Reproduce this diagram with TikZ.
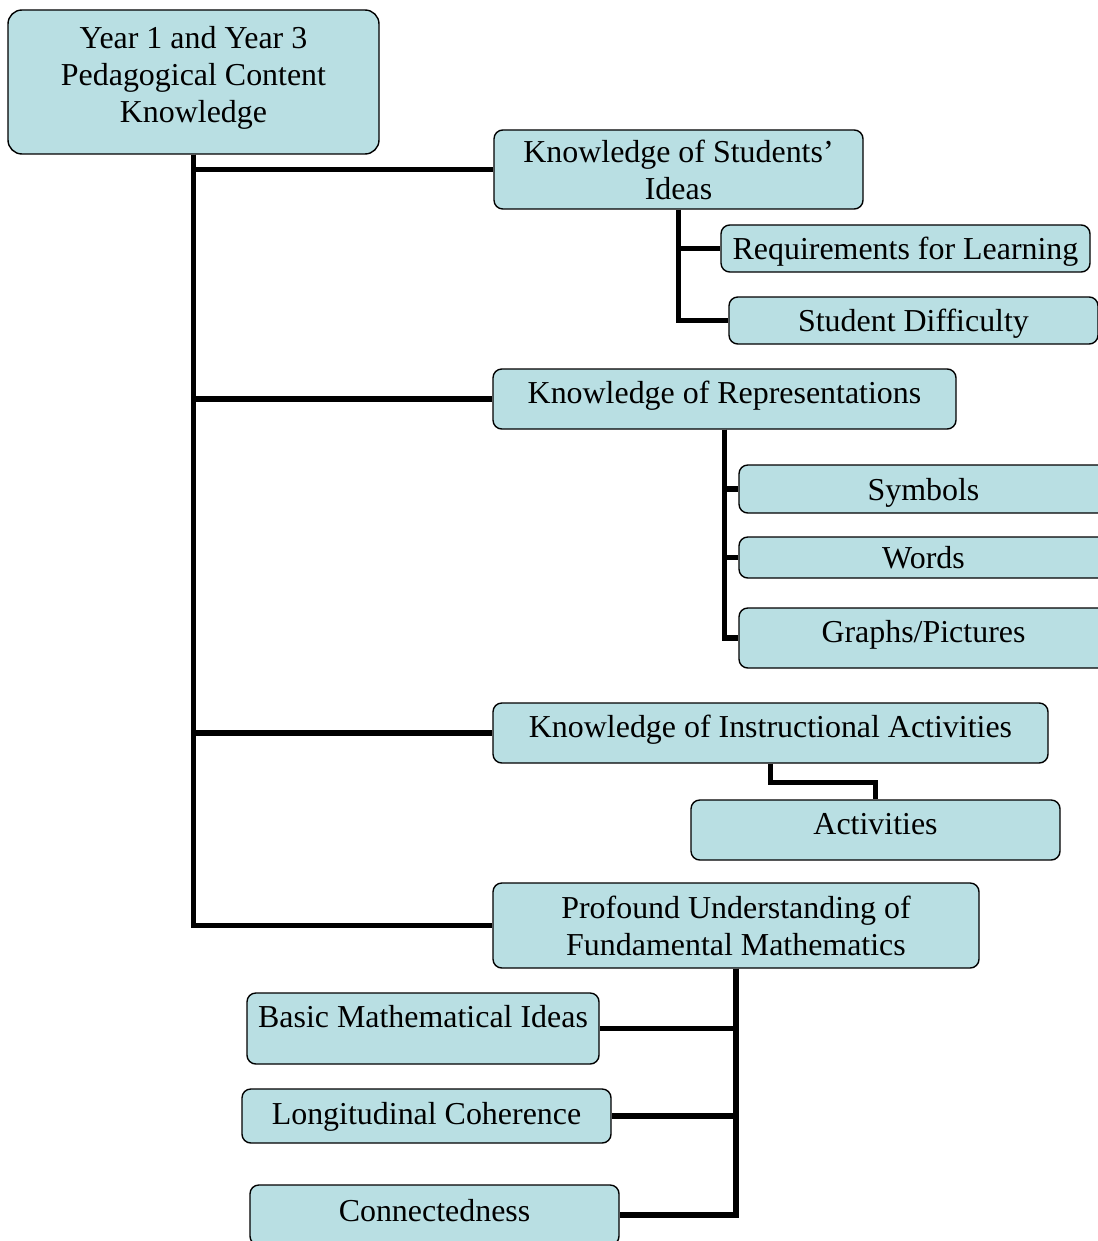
\documentclass[tikz,border=0pt]{standalone}
\usepackage{fontspec}
\setmainfont{Liberation Serif}
\definecolor{boxfill}{RGB}{185,223,227}

\begin{document}
\begin{tikzpicture}[x=0.025cm, y=-0.025cm,
    pck/.style={draw=black, line width=1pt, fill=boxfill, rounded corners=0.22cm,
        align=center, inner sep=0pt, font=\fontsize{22.7}{26.4}\selectfont},
    one/.style={pck, text height=18.5pt, text depth=2.2pt},
    wh/.style 2 args={minimum width=#1*0.025cm, minimum height=#2*0.025cm},
    link/.style={line width=3.6pt}]
    \useasboundingbox (0,0) rectangle (1097,1241);
    % boxes
    \node[pck, wh={371}{144}, rounded corners=0.35cm, text depth=10.6pt] (root) at (193.5,82) {Year 1 and Year 3\\Pedagogical Content\\Knowledge};
    \node[pck, wh={369}{79}] (stu) at (678.5,169.5) {Knowledge of Students'\\Ideas};
    \node[one, wh={369}{47}] (req) at (905.5,248.5) {Requirements for Learning};
    \node[one, wh={369}{47}] (diff) at (913.5,320.5) {Student Difficulty};
    \node[one, wh={463}{60}, text depth=0.45cm] (rep) at (724.5,399) {Knowledge of Representations};
    \node[one, wh={369}{48}] (sym) at (923.5,489) {Symbols};
    \node[one, wh={369}{41}] (words) at (923.5,557.5) {Words};
    \node[one, wh={369}{60}, text depth=0.45cm] (graphs) at (923.5,638) {Graphs/Pictures};
    \node[one, wh={555}{60}, text depth=0.45cm] (act) at (770.5,733) {Knowledge of Instructional Activities};
    \node[one, wh={369}{60}, text depth=0.45cm] (activ) at (875.5,830) {Activities};
    \node[pck, wh={486}{85}] (puf) at (736,925.5) {Profound Understanding of\\Fundamental Mathematics};
    \node[one, wh={352}{71}, text depth=0.7cm] (basic) at (423,1028.5) {Basic Mathematical Ideas};
    \node[one, wh={369}{54}, text depth=6.5pt] (long) at (426.5,1116) {Longitudinal Coherence};
    \node[one, wh={369}{60}, text depth=9.3pt] (conn) at (434.5,1215) {Connectedness};
    % connectors
    \draw[link] (root.south) |- (stu.west);
    \draw[link] (root.south) |- (rep.west);
    \draw[link] (root.south) |- (act.west);
    \draw[link] (root.south) |- (puf.west);
    \draw[link] (stu.south) |- (req.west);
    \draw[link] (stu.south) |- (diff.west);
    \draw[link] (rep.south) |- (sym.west);
    \draw[link] (rep.south) |- (words.west);
    \draw[link] (rep.south) |- (graphs.west);
    \draw[link] (act.south) -- ++(0,18.5) -| (activ.north);
    \draw[link] (puf.south) |- (basic.east);
    \draw[link] (puf.south) |- (long.east);
    \draw[link] (puf.south) |- (conn.east);
\end{tikzpicture}
\end{document}
